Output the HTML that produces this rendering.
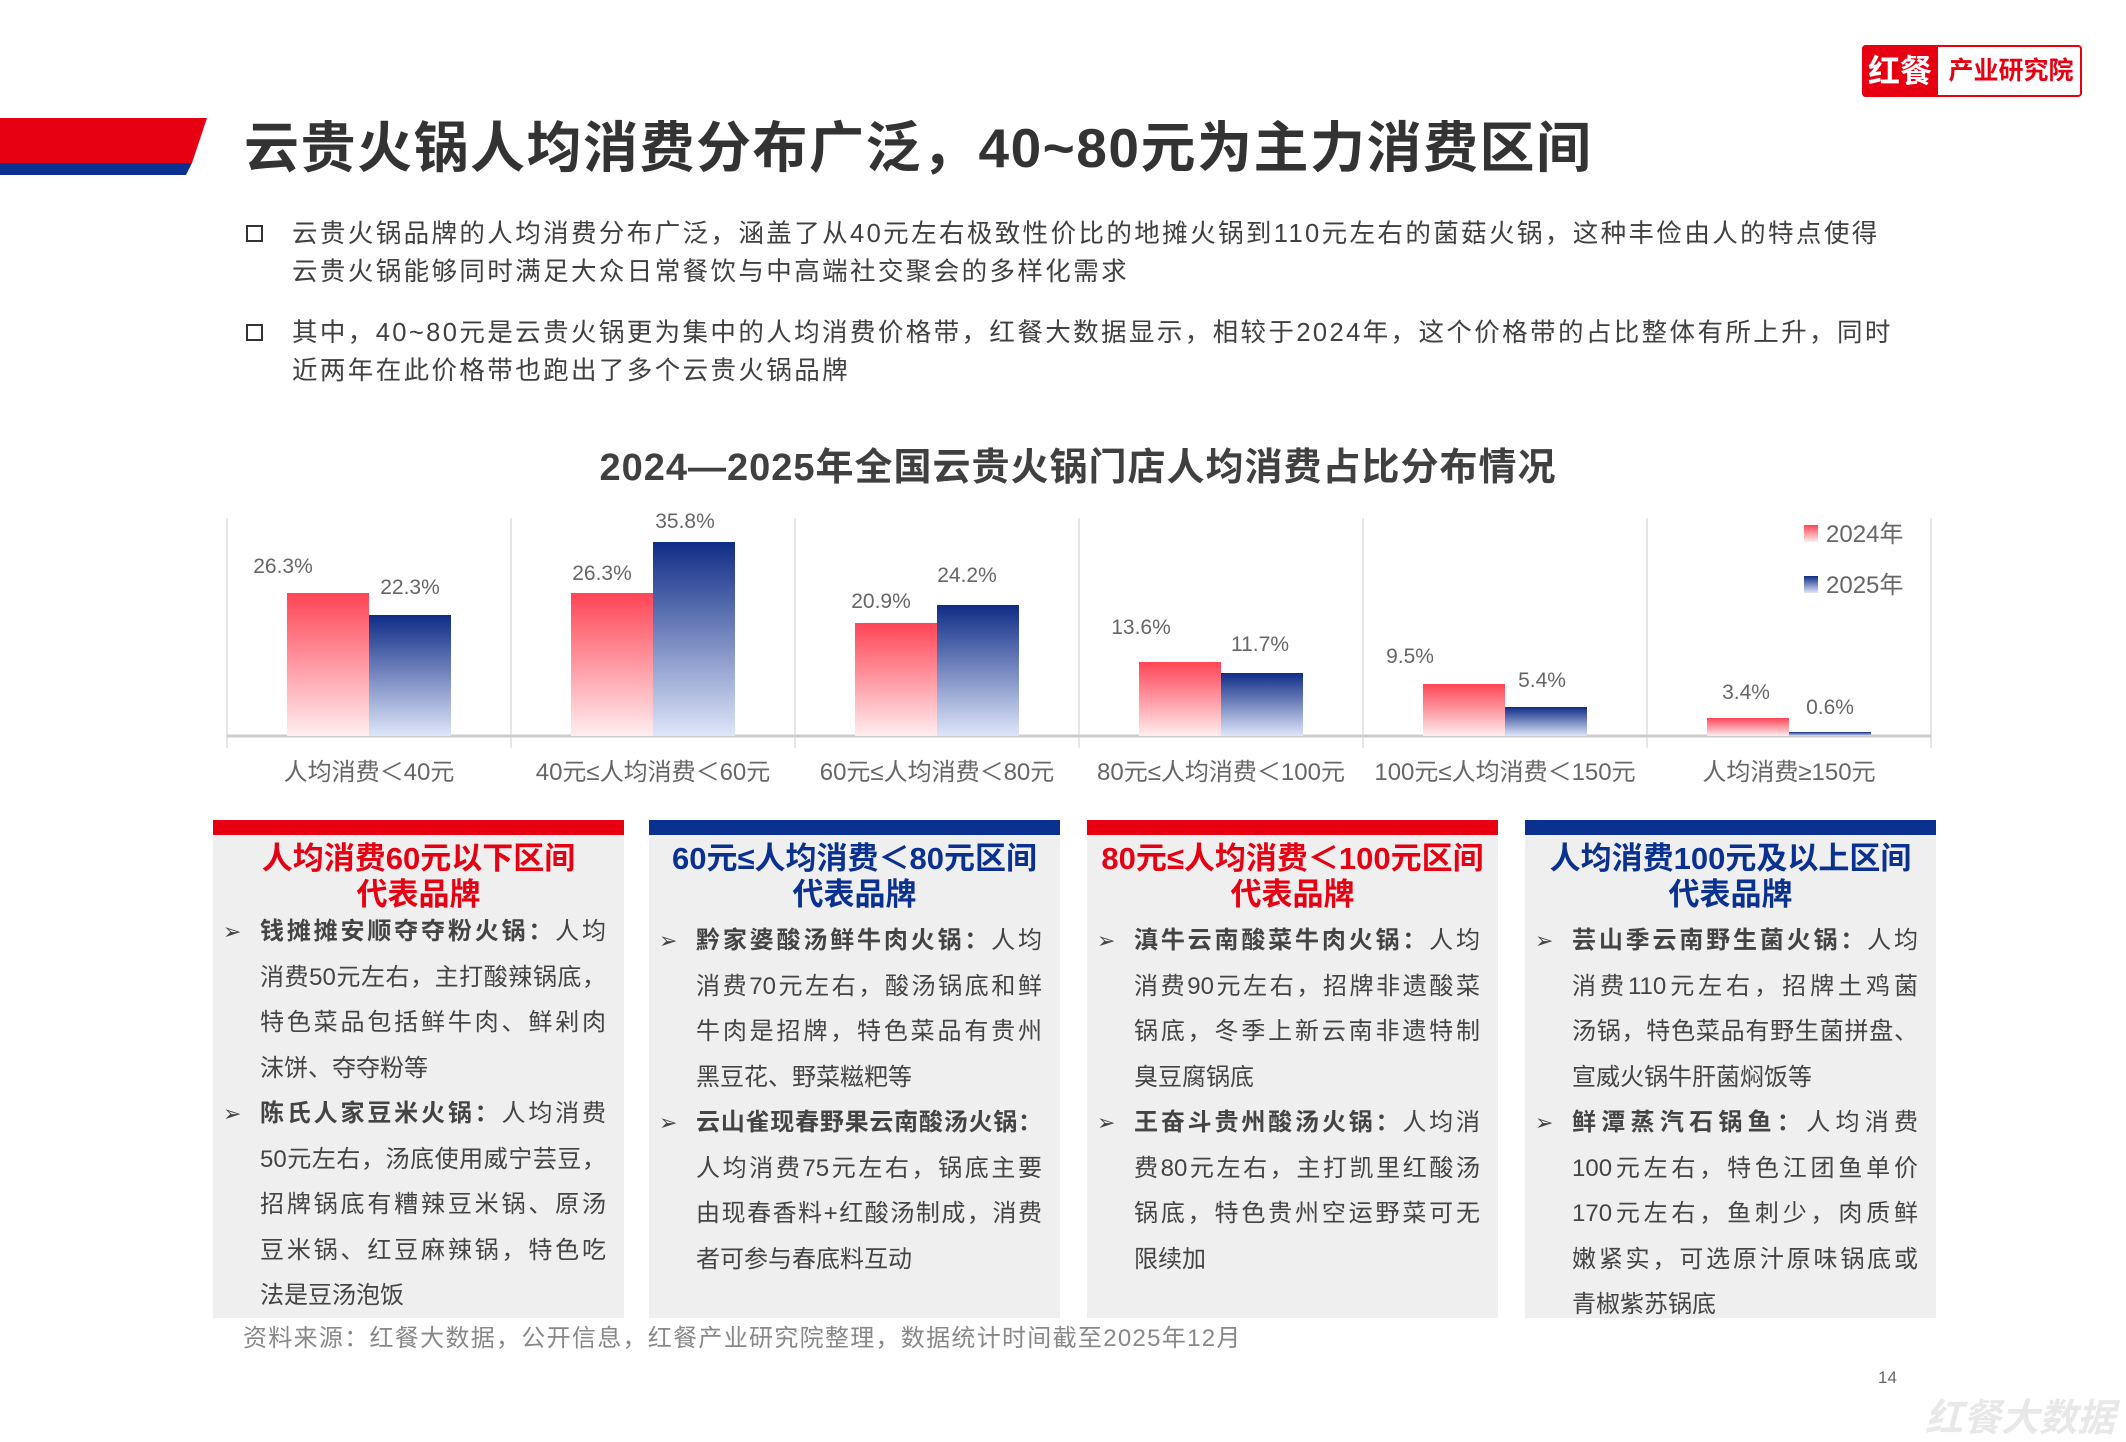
<!DOCTYPE html>
<html><head><meta charset="utf-8">
<style>
*{margin:0;padding:0;box-sizing:border-box}
body{width:2126px;height:1418px;background:#fff;position:relative;overflow:hidden;font-family:"Liberation Sans","Noto Sans CJK SC",sans-serif;color:#404040}
.abs{position:absolute}
.title{left:244px;top:103px;font-size:55px;font-weight:bold;color:#333;white-space:nowrap;letter-spacing:1.5px}
.p{left:292px;font-size:25.5px;line-height:38px;white-space:nowrap;color:#404040;letter-spacing:2.4px}
.sq{width:17px;height:17px;border:2.5px solid #333}
.card{top:820px;width:411px;height:498px;background:#efefef}
.card .bar{height:15px}
.card h3{text-align:center;font-size:31px;line-height:36px;margin-top:6px;font-weight:bold}
.item{position:relative;padding-left:47px;padding-right:18px;font-size:24px;line-height:45.5px;color:#444}
.item .ar{position:absolute;left:10px;top:0;font-size:22px;color:#444}
.item .l{text-align:justify;text-align-last:justify;white-space:nowrap}
.item .e{white-space:nowrap}
b{color:#444}
</style></head><body>
<div class="abs" style="left:1862px;top:45px;width:220px;height:52px;border:2px solid #e60012;border-radius:4px;background:#fff"></div>
<div class="abs" style="left:1862px;top:45px;width:76px;height:52px;background:#e60012;border-radius:4px 0 0 4px;color:#fff;font-size:32px;font-weight:bold;line-height:52px;text-align:center">红餐</div>
<div class="abs" style="left:1940px;top:45px;width:142px;height:52px;color:#e60012;font-size:25px;font-weight:bold;line-height:52px;text-align:center">产业研究院</div>
<svg class="abs" style="left:0;top:115px" width="210" height="62"><polygon points="0,3 207,3 192,48 0,48" fill="#e60012"/><polygon points="0,48 192,48 186,60 0,60" fill="#0a3190"/></svg>
<div class="abs title">云贵火锅人均消费分布广泛，40~80元为主力消费区间</div>
<div class="abs sq" style="left:246px;top:225px"></div>
<div class="abs p" style="top:215px">云贵火锅品牌的人均消费分布广泛，涵盖了从40元左右极致性价比的地摊火锅到110元左右的菌菇火锅，这种丰俭由人的特点使得<br>云贵火锅能够同时满足大众日常餐饮与中高端社交聚会的多样化需求</div>
<div class="abs sq" style="left:246px;top:324px"></div>
<div class="abs p" style="top:314px">其中，40~80元是云贵火锅更为集中的人均消费价格带，红餐大数据显示，相较于2024年，这个价格带的占比整体有所上升，同时<br>近两年在此价格带也跑出了多个云贵火锅品牌</div>
<div class="abs" style="left:0;width:2156px;top:436px;text-align:center;font-size:38px;font-weight:bold;color:#404040;letter-spacing:1px">2024—2025年全国云贵火锅门店人均消费占比分布情况</div>
<svg class="abs" style="left:0;top:0" width="2126" height="800">
<defs>
<linearGradient id="r" x1="0" y1="0" x2="0" y2="1"><stop offset="0" stop-color="#ff4455"/><stop offset="1" stop-color="#ffeef0"/></linearGradient>
<linearGradient id="b" x1="0" y1="0" x2="0" y2="1"><stop offset="0" stop-color="#0f2c86"/><stop offset="1" stop-color="#dfe6fa"/></linearGradient>
</defs>
<g stroke="#ddd" stroke-width="1.5">
<line x1="227" y1="518" x2="227" y2="748"/><line x1="511" y1="518" x2="511" y2="748"/><line x1="795" y1="518" x2="795" y2="748"/><line x1="1079" y1="518" x2="1079" y2="748"/><line x1="1363" y1="518" x2="1363" y2="748"/><line x1="1647" y1="518" x2="1647" y2="748"/><line x1="1931" y1="518" x2="1931" y2="748"/>
</g>
<line x1="227" y1="736" x2="1931" y2="736" stroke="#ccc" stroke-width="3"/>
<g font-size="21" fill="#666" text-anchor="middle" font-family="Liberation Sans,sans-serif">
<rect x="287" y="593" width="82" height="143" fill="url(#r)"/><rect x="369" y="615" width="82" height="121" fill="url(#b)"/>
<text x="283" y="573">26.3%</text><text x="410" y="594">22.3%</text>
<rect x="571" y="593" width="82" height="143" fill="url(#r)"/><rect x="653" y="542" width="82" height="194" fill="url(#b)"/>
<text x="602" y="580">26.3%</text><text x="685" y="528">35.8%</text>
<rect x="855" y="623" width="82" height="113" fill="url(#r)"/><rect x="937" y="605" width="82" height="131" fill="url(#b)"/>
<text x="881" y="608">20.9%</text><text x="967" y="582">24.2%</text>
<rect x="1139" y="662" width="82" height="74" fill="url(#r)"/><rect x="1221" y="673" width="82" height="63" fill="url(#b)"/>
<text x="1141" y="634">13.6%</text><text x="1260" y="651">11.7%</text>
<rect x="1423" y="684" width="82" height="52" fill="url(#r)"/><rect x="1505" y="707" width="82" height="29" fill="url(#b)"/>
<text x="1410" y="663">9.5%</text><text x="1542" y="687">5.4%</text>
<rect x="1707" y="718" width="82" height="18" fill="url(#r)"/><rect x="1789" y="732" width="82" height="4" fill="url(#b)"/>
<text x="1746" y="699">3.4%</text><text x="1830" y="714">0.6%</text>
</g>
<rect x="1804" y="525" width="14" height="17" fill="url(#r)"/><rect x="1804" y="576" width="14" height="17" fill="url(#b)"/>
<g font-size="24" fill="#666" font-family="Liberation Sans,Noto Sans CJK SC,sans-serif">
<text x="1826" y="542">2024年</text><text x="1826" y="593">2025年</text>
</g>
<g font-size="24" fill="#666" text-anchor="middle" font-family="Liberation Sans,Noto Sans CJK SC,sans-serif">
<text x="369" y="780">人均消费＜40元</text><text x="653" y="780">40元≤人均消费＜60元</text><text x="937" y="780">60元≤人均消费＜80元</text><text x="1221" y="780">80元≤人均消费＜100元</text><text x="1505" y="780">100元≤人均消费＜150元</text><text x="1789" y="780">人均消费≥150元</text>
</g>
</svg>

<div class="abs card" style="left:213px"><div class="bar" style="background:#e60012"></div>
<h3 style="color:#e60012">人均消费60元以下区间<br>代表品牌</h3>
<div class="item" style="margin-top:-4px"><span class="ar">➢</span>
<div class="l"><b>钱摊摊安顺夺夺粉火锅：</b>人均</div><div class="l">消费50元左右，主打酸辣锅底，</div><div class="l">特色菜品包括鲜牛肉、鲜剁肉</div><div class="e">沫饼、夺夺粉等</div></div>
<div class="item"><span class="ar">➢</span>
<div class="l"><b>陈氏人家豆米火锅：</b>人均消费</div><div class="l">50元左右，汤底使用威宁芸豆，</div><div class="l">招牌锅底有糟辣豆米锅、原汤</div><div class="l">豆米锅、红豆麻辣锅，特色吃</div><div class="e">法是豆汤泡饭</div></div>
</div>

<div class="abs card" style="left:649px"><div class="bar" style="background:#0a3190"></div>
<h3 style="color:#0a3190">60元≤人均消费＜80元区间<br>代表品牌</h3>
<div class="item" style="margin-top:5px"><span class="ar">➢</span>
<div class="l"><b>黔家婆酸汤鲜牛肉火锅：</b>人均</div><div class="l">消费70元左右，酸汤锅底和鲜</div><div class="l">牛肉是招牌，特色菜品有贵州</div><div class="e">黑豆花、野菜糍粑等</div></div>
<div class="item"><span class="ar">➢</span>
<div class="l"><b>云山雀现春野果云南酸汤火锅：</b></div><div class="l">人均消费75元左右，锅底主要</div><div class="l">由现春香料+红酸汤制成，消费</div><div class="e">者可参与春底料互动</div></div>
</div>

<div class="abs card" style="left:1087px"><div class="bar" style="background:#e60012"></div>
<h3 style="color:#e60012">80元≤人均消费＜100元区间<br>代表品牌</h3>
<div class="item" style="margin-top:5px"><span class="ar">➢</span>
<div class="l"><b>滇牛云南酸菜牛肉火锅：</b>人均</div><div class="l">消费90元左右，招牌非遗酸菜</div><div class="l">锅底，冬季上新云南非遗特制</div><div class="e">臭豆腐锅底</div></div>
<div class="item"><span class="ar">➢</span>
<div class="l"><b>王奋斗贵州酸汤火锅：</b>人均消</div><div class="l">费80元左右，主打凯里红酸汤</div><div class="l">锅底，特色贵州空运野菜可无</div><div class="e">限续加</div></div>
</div>

<div class="abs card" style="left:1525px"><div class="bar" style="background:#0a3190"></div>
<h3 style="color:#0a3190">人均消费100元及以上区间<br>代表品牌</h3>
<div class="item" style="margin-top:5px"><span class="ar">➢</span>
<div class="l"><b>芸山季云南野生菌火锅：</b>人均</div><div class="l">消费110元左右，招牌土鸡菌</div><div class="l">汤锅，特色菜品有野生菌拼盘、</div><div class="e">宣威火锅牛肝菌焖饭等</div></div>
<div class="item"><span class="ar">➢</span>
<div class="l"><b>鲜潭蒸汽石锅鱼：</b>人均消费</div><div class="l">100元左右，特色江团鱼单价</div><div class="l">170元左右，鱼刺少，肉质鲜</div><div class="l">嫩紧实，可选原汁原味锅底或</div><div class="e">青椒紫苏锅底</div></div>
</div>

<div class="abs" style="left:243px;top:1318px;font-size:24px;color:#888;white-space:nowrap;letter-spacing:1.3px">资料来源：红餐大数据，公开信息，红餐产业研究院整理，数据统计时间截至2025年12月</div>
<div class="abs" style="left:1878px;top:1368px;font-size:17px;color:#666">14</div>
<div class="abs" style="left:1925px;top:1387px;font-size:38px;font-style:italic;font-weight:bold;color:#e8e8e8;white-space:nowrap">红餐大数据</div>
</body></html>
